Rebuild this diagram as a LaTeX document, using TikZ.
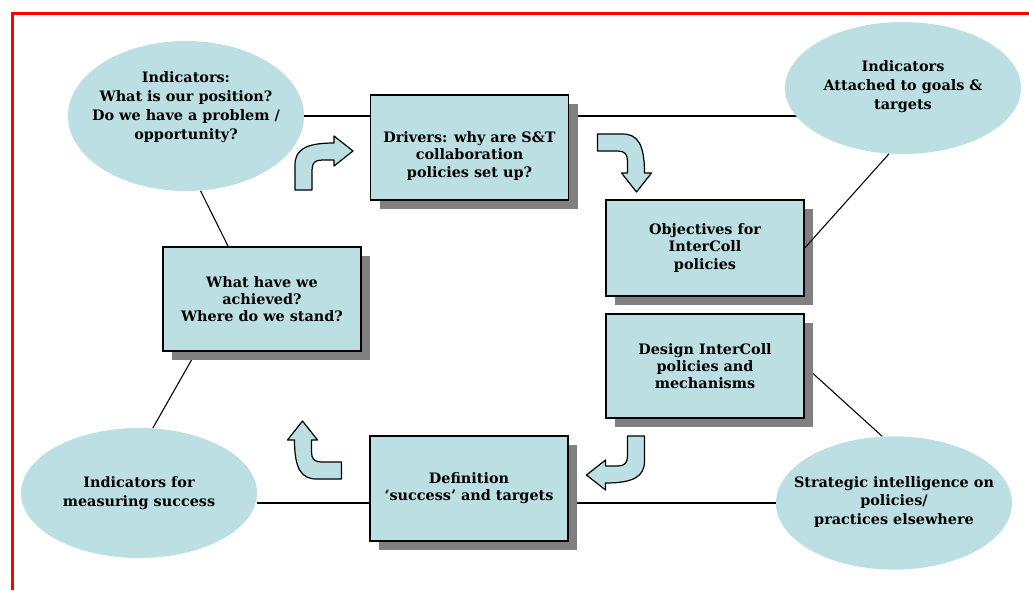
\documentclass[tikz,border=0pt]{standalone}
\usepackage{fontspec}
\setmainfont{DejaVu Serif}
\usetikzlibrary{shapes.geometric,shadows,calc,backgrounds}
\definecolor{fillc}{RGB}{187,223,227}
\definecolor{shad}{RGB}{128,128,128}
\begin{document}
\begin{tikzpicture}[x=0.75pt,y=-0.75pt,
  ell/.style={ellipse, fill=fillc, draw=none, inner sep=0pt},
  boxn/.style={rectangle, fill=fillc, draw=black, line width=1.1pt, inner sep=0pt,
    minimum width=148.5pt, general shadow={fill=shad, shadow xshift=6.75pt, shadow yshift=-6.75pt},
    font=\fontsize{10.8}{12.8}\selectfont\bfseries, align=center},
  etxt/.style={font=\fontsize{10.8}{14.2}\selectfont\bfseries, align=center, inner sep=0pt},
  conn/.style={draw=black, line width=0.8pt},
  bentarrow/.style={fill=fillc, draw=black, line width=0.9pt, line join=round},
  bent/.pic={\path[bentarrow] (-29,28) -- (-29,3) .. controls (-29,-12) and (-19,-19) .. (10,-19)
      -- (10,-26) -- (29,-11) -- (10,4) -- (10,-2) -- (-2,-2)
      .. controls (-9,-2) and (-12,1) .. (-12,8) -- (-12,28) -- cycle;}
]
\useasboundingbox (0,0) rectangle (1029,590);

% frame
\draw[red, line width=2.25pt] (12,590) -- (12,13) -- (1029,13);

% ellipses
\node[ell, minimum width=177pt, minimum height=112.5pt] (tl) at (186,116) {};
\node[etxt] (tlt) at (186,107) {Indicators:\\What is our position?\\Do we have a problem /\\opportunity?};
\node[ell, minimum width=177pt, minimum height=99pt] (tr) at (903,88) {};
\node[etxt] (trt) at (903,87) {Indicators\\Attached to goals \&\\targets};
\node[ell, minimum width=177pt, minimum height=97.5pt] (bl) at (139,493) {};
\node[etxt] (blt) at (139,493) {Indicators for\\measuring success};
\node[ell, minimum width=177pt, minimum height=100pt] (br) at (894,503) {};
\node[etxt] (brt) at (894,502) {Strategic intelligence on\\policies/\\practices elsewhere};

% boxes
\node[boxn, minimum height=78.75pt] (drv) at (469.5,147.5) {};
\node[etxt, font=\fontsize{10.8}{12.8}\selectfont\bfseries] (drvt) at (469.5,156) {Drivers: why are S\&T\\collaboration\\policies set up?};
\node[boxn, minimum height=72pt] (obj) at (705,248) {Objectives for\\InterColl\\policies};
\node[boxn, minimum height=78pt] (des) at (705,366) {Design InterColl\\policies and\\mechanisms};
\node[boxn, minimum height=78pt] (wh) at (262,299) {What have we\\achieved?\\Where do we stand?};
\node[boxn, minimum height=78.75pt] (def) at (469,488.5) {Definition\\‘success’ and targets};

% connectors
\begin{scope}[on background layer]
\draw[conn] (tl.east) -- (tl.east -| drv.west);
\draw[conn] (tl.east -| drv.east) -- (tl.east -| tr.center);
\draw[conn] (tl.281) -- ($(wh.north west)!0.33!(wh.north east)$);
\draw[conn] ($(wh.south west)!0.17!(wh.south east)$) -- (bl.78);
\draw[conn] (bl.east |- br.center) -- (def.west |- br.center);
\draw[conn] (def.east |- br.center) -- (br.west);
\draw[conn] (des.east) -- (br.100);
\end{scope}
\draw[conn] (obj.east) -- (tr.258);

% bent arrows
\pic at (324,162) {bent};
\pic[rotate=-90] at (625.5,163) {bent};
\pic[rotate=180] at (615.5,464) {bent};
\pic[rotate=90] at (313.5,450) {bent};
\end{tikzpicture}
\end{document}
